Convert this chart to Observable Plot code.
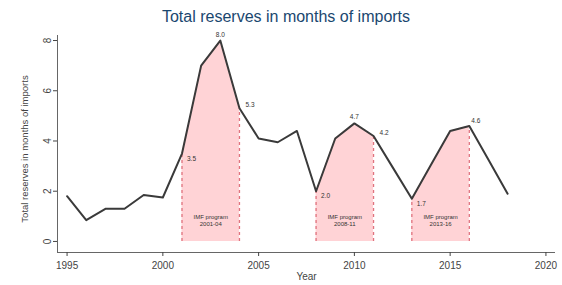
<!DOCTYPE html>
<html><head><meta charset="utf-8">
<script src="https://cdn.jsdelivr.net/npm/d3@7"></script>
<script src="https://cdn.jsdelivr.net/npm/@observablehq/plot@0.6"></script>
<style>
body{margin:0;background:#fff;font-family:"Liberation Sans",Arial,sans-serif;}
#title{height:28px;line-height:34px;text-align:center;font-size:16px;color:#1a476f;width:562px;padding-left:10px;box-sizing:border-box;}
</style></head><body>
<div id="title">Total reserves in months of imports</div>
<div id="chart"></div>
<script>
const years = [1995,1996,1997,1998,1999,2000,2001,2002,2003,2004,2005,2006,2007,2008,2009,2010,2011,2012,2013,2014,2015,2016,2017,2018];
const reserves = [1.8,0.85,1.3,1.3,1.85,1.75,3.5,7.0,8.0,5.3,4.1,3.95,4.4,2.0,4.1,4.7,4.2,2.95,1.7,3.05,4.4,4.6,3.25,1.9];
const progStart = [2001,2008,2013];
const progEnd = [2004,2011,2016];
const progLabel = ["2001-04","2008-11","2013-16"];
const labelYears = [2001,2003,2004,2008,2010,2011,2013,2016];
const xTicks = [1995,2000,2005,2010,2015,2020];
const yTicks = [0,2,4,6,8];

const data = years.map((y,i)=>({year:y, value:reserves[i]}));
const progs = progStart.map((s,i)=>({start:s,end:progEnd[i],label:progLabel[i]}));
const areaMarks = progs.map(p => Plot.areaY(data.filter(d=>d.year>=p.start && d.year<=p.end), {x:"year", y:"value", fill:"#ffd3d6", fillOpacity:1}));
const edges = [];
progs.forEach(p=>{edges.push(data.find(d=>d.year===p.start)); edges.push(data.find(d=>d.year===p.end));});
const labData = data.filter(d=>labelYears.includes(d.year)).map(d=>{
  const isStart = progStart.includes(d.year), isEnd = progEnd.includes(d.year);
  let dx=0, dy=-6;
  if (isStart) {dx=5; dy=5;}
  if (isEnd) {dx=6; dy=-3;}
  if (d.year===2016) {dx=2; dy=-5;}
  return {...d, dx, dy, text:d.value.toFixed(1)};
});

const ymin = -0.44, xmin = 1994.5;
const chart = Plot.plot({
  width:562, height:257,
  marginLeft:57, marginRight:7, marginTop:7, marginBottom:33,
  style:{fontFamily:"Liberation Sans, Arial, sans-serif", background:"#fff"},
  x:{domain:[xmin,2020.5]},
  y:{domain:[ymin,8.2]},
  marks:[
    ...areaMarks,
    Plot.ruleX(edges, {x:"year", y1:0, y2:"value", stroke:"#e0737f", strokeWidth:1.3, strokeDasharray:"3,3"}),
    Plot.line(data, {x:"year", y:"value", stroke:"#3a3a3a", strokeWidth:2}),
    ...labData.map(d=>Plot.text([d], {x:"year", y:"value", text:"text", dx:d.dx, dy:d.dy, fontSize:6.5, fill:"#333", textAnchor:d.dx>0?"start":"middle"})),
    Plot.text(progs, {x:d=>(d.start+d.end)/2, y:0.85, text:d=>"IMF program\n"+d.label, fontSize:6, fill:"#333", lineHeight:1.1}),
    Plot.ruleY([ymin], {stroke:"#666", strokeWidth:1}),
    Plot.ruleX([xmin], {stroke:"#666", strokeWidth:1}),
    Plot.axisX({ticks:xTicks, tickFormat:d=>String(d), tickSize:4, fontSize:10, color:"#444", label:null}),
    Plot.axisY({ticks:yTicks, tickSize:4, fontSize:10, tickRotate:-90, color:"#444", label:null, tickPadding:3}),
    Plot.text(["Year"], {frameAnchor:"bottom", dy:27, fontSize:10, fill:"#444"}),
    Plot.text(["Total reserves in months of imports"], {frameAnchor:"left", textAnchor:"middle", dx:-33, dy:5, rotate:-90, fontSize:9.5, fill:"#444"})
  ]
});
document.getElementById("chart").appendChild(chart);
</script></body></html>
